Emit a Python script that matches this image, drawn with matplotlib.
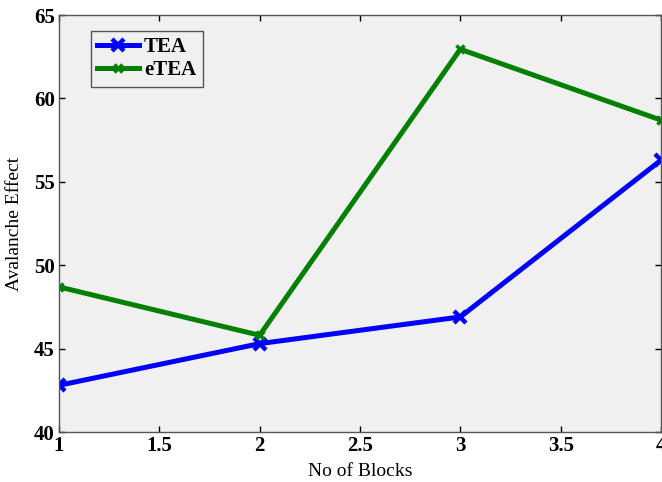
import matplotlib.pyplot as plt

# data
blocks = [1, 2, 3, 4]
tea = [42.8, 45.3, 46.9, 56.3]
etea = [48.7, 45.8, 62.95, 58.7]

plt.rcParams['font.family'] = ['Liberation Serif', 'DejaVu Serif']

fig = plt.figure(figsize=(6.62, 4.82), dpi=100)
ax = fig.add_axes([0.0891, 0.1037, 0.9094, 0.8651])
ax.set_facecolor('#f0f0f0')

ax.plot(blocks, tea, color='#0000ff', lw=3.6, marker='x', ms=9, mew=3.2, label='TEA')
ax.plot(blocks, etea, color='#008000', lw=3.6, marker='x', ms=6, mew=2.5, label='eTEA')

ax.set_xlim(1, 4)
ax.set_ylim(40, 65)
ax.set_xticks([1, 1.5, 2, 2.5, 3, 3.5, 4])
ax.set_xticklabels(['1', '1.5', '2', '2.5', '3', '3.5', '4'])
ax.set_yticks([40, 45, 50, 55, 60, 65])

ax.tick_params(direction='in', top=True, right=True, length=4, width=1,
               labelsize=15, pad=3)
for lab in ax.get_xticklabels() + ax.get_yticklabels():
    lab.set_fontweight('bold')

for s in ax.spines.values():
    s.set_color('#555555')
    s.set_linewidth(1)

ax.set_xlabel('No of Blocks', fontsize=14, labelpad=5)
ax.set_ylabel('Avalanche Effect', fontsize=14, labelpad=8)

leg = ax.legend(loc='upper left', bbox_to_anchor=(0.053, 0.962), fancybox=False,
                framealpha=1, facecolor='#f0f0f0', edgecolor='#555555',
                prop={'weight': 'bold', 'size': 15}, handlelength=2.0,
                borderpad=0.3, labelspacing=0.15, handletextpad=0.25,
                borderaxespad=0)
leg.get_frame().set_linewidth(1)

fig.savefig('out.png', dpi=100)
